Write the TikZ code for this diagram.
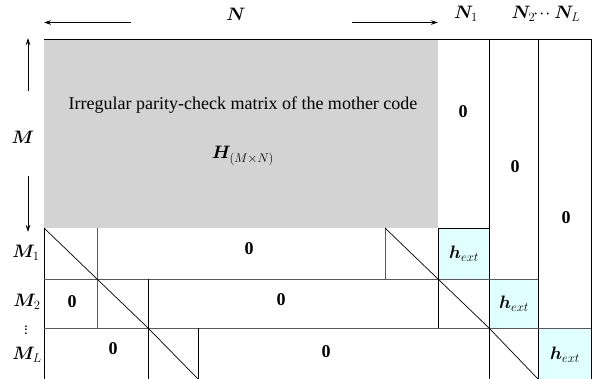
\RequirePackage{fix-cm}
\documentclass[tikz,border=0pt]{standalone}
\usepackage{amsmath}
\usepackage{bm}
\usepackage{fontspec}
\setmainfont{Liberation Serif}
\usetikzlibrary{arrows.meta}
\definecolor{grayfill}{RGB}{211,211,211}
\definecolor{extfill}{RGB}{224,255,255}
\newcommand{\tightvdots}{\vbox{\baselineskip3.6pt\lineskiplimit0pt\hbox{.}\hbox{.}\hbox{.}}}
\tikzset{
  lbl/.style={font=\fontsize{18}{21}\selectfont, inner sep=0pt},
  txt/.style={font=\fontsize{18}{21}\selectfont, inner sep=0pt},
  dotlbl/.style={font=\fontsize{11}{12}\selectfont\bfseries, inner sep=0pt},
  grid/.style={line width=0.8pt, black},
  softline/.style={line width=0.8pt, black!65},
  diag/.style={line width=0.7pt, black},
  dimarrow/.style={line width=0.8pt, -{Stealth[length=7pt,width=4.5pt]}},
  extbox/.style={grid, fill=extfill}
}
\begin{document}
\begin{tikzpicture}[x=1pt,y=-1pt]
\useasboundingbox (0,0) rectangle (600,379);
% gray block
\fill[grayfill] (44,39) rectangle (438,228);
% h_ext boxes
\draw[extbox] (438,228) rectangle (489,279);
\draw[extbox] (489,279) rectangle (538,328);
\draw[extbox] (538,328) rectangle (591,379);
% frame lines
\draw[grid] (44,39) -- (591,39);
\draw[grid] (489,39) -- (489,379);
\draw[grid] (538,39) -- (538,379);
\draw[grid] (591,39) -- (591,379);
\draw[grid] (44,228) -- (44,379);
\draw[grid] (438,228) -- (438,328);
\draw[softline] (44,279) -- (538,279);
\draw[softline] (44,328) -- (591,328);
\draw[softline] (97,228) -- (97,328);
\draw[softline] (385,228) -- (385,279);
\draw[grid] (148,279) -- (148,379);
\draw[grid] (198,328) -- (198,379);
% diagonals
\draw[diag] (44,228) -- (97,279) -- (148,328) -- (198,379);
\draw[diag] (385,228) -- (438,279) -- (489,328) -- (538,379);
% texts
\node[txt] (title) at (243,105) {Irregular parity-check matrix of the mother code};
\node[lbl] (H) at (243,156) {$\bm{H}_{(M\times N)}$};
% column labels
\node[lbl] (N) at (236,14) {$\bm{N}$};
\node[lbl] (N1) at (466,14) {$\bm{N}_1$};
\node[lbl] (N2L) at (546,14) {$\bm{N}_{2}\!\!\cdot\!\cdot\!\cdot\bm{N}_L$};
\coordinate (nl0) at (131,22.5);
\coordinate (nl1) at (44,22.5);
\coordinate (nr0) at (352,22.5);
\coordinate (nr1) at (438,22.5);
\draw[dimarrow] (nl0) -- (nl1);
\draw[dimarrow] (nr0) -- (nr1);
% row labels
\node[lbl] (M) at (23,137) {$\bm{M}$};
\coordinate (mu0) at (28,91);
\coordinate (mu1) at (28,38);
\coordinate (md0) at (28,176);
\coordinate (md1) at (28,232);
\draw[dimarrow] (mu0) -- (mu1);
\draw[dimarrow] (md0) -- (md1);
\node[lbl] (M1) at (26,253) {$\bm{M}_1$};
\node[lbl] (M2) at (27,302) {$\bm{M}_2$};
\node[dotlbl] (vd) at (26,330) {\tightvdots};
\node[lbl] (ML) at (27,355) {$\bm{M}_L$};
% zeros
\node[lbl] (z1) at (463,112) {$\mathbf{0}$};
\node[lbl] (z2) at (515,167) {$\mathbf{0}$};
\node[lbl] (z3) at (566,218) {$\mathbf{0}$};
\node[lbl] (z4) at (249,249) {$\mathbf{0}$};
\node[lbl] (z5) at (72,302) {$\mathbf{0}$};
\node[lbl] (z6) at (281,300) {$\mathbf{0}$};
\node[lbl] (z7) at (113,349) {$\mathbf{0}$};
\node[lbl] (z8) at (326,352) {$\mathbf{0}$};
% h_ext
\node[lbl] (h1) at (464,254) {$\bm{h}_{ext}$};
\node[lbl] (h2) at (514,304) {$\bm{h}_{ext}$};
\node[lbl] (h3) at (565,355) {$\bm{h}_{ext}$};
\end{tikzpicture}
\end{document}
